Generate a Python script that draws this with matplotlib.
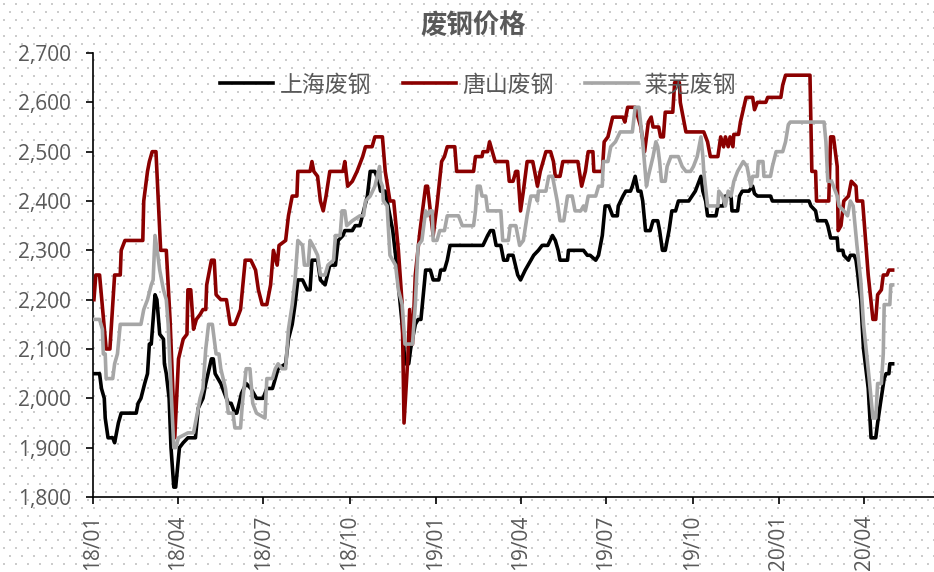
import matplotlib
matplotlib.use("Agg")
import matplotlib.pyplot as plt
import matplotlib.dates as mdates
import matplotlib.ticker as mticker
import numpy as np
import pandas as pd

# ---------------------------------------------------------------------------
# 数据 (元/吨)
# ---------------------------------------------------------------------------
series_names = ["上海废钢", "唐山废钢", "莱芜废钢"]
series_colors = ["#000000", "#8B0000", "#A6A6A6"]

shanghai = [
    ("2018-01-02", 2050), ("2018-01-08", 2050), ("2018-01-10", 2020), ("2018-01-13", 2000),
    ("2018-01-14", 1960), ("2018-01-17", 1920), ("2018-01-22", 1920), ("2018-01-24", 1910),
    ("2018-01-28", 1950), ("2018-01-31", 1970), ("2018-02-16", 1970), ("2018-02-18", 1990),
    ("2018-02-21", 2000), ("2018-02-25", 2030), ("2018-02-28", 2050), ("2018-03-02", 2110),
    ("2018-03-04", 2110), ("2018-03-08", 2210), ("2018-03-10", 2200), ("2018-03-13", 2130),
    ("2018-03-17", 2120), ("2018-03-18", 2070), ("2018-03-20", 2050), ("2018-03-23", 2000),
    ("2018-03-25", 1900), ("2018-03-28", 1820), ("2018-03-30", 1820), ("2018-04-03", 1900),
    ("2018-04-07", 1910), ("2018-04-12", 1920), ("2018-04-20", 1920), ("2018-04-23", 1980),
    ("2018-04-28", 2000), ("2018-05-01", 2030), ("2018-05-07", 2080), ("2018-05-09", 2080),
    ("2018-05-11", 2050), ("2018-05-17", 2030), ("2018-05-25", 1990), ("2018-05-28", 1990),
    ("2018-06-01", 1970), ("2018-06-03", 1970), ("2018-06-08", 2010), ("2018-06-13", 2030),
    ("2018-06-18", 2020), ("2018-06-24", 2000), ("2018-07-01", 2000), ("2018-07-05", 2020),
    ("2018-07-11", 2020), ("2018-07-14", 2040), ("2018-07-17", 2060), ("2018-07-25", 2070),
    ("2018-07-28", 2120), ("2018-08-01", 2150), ("2018-08-04", 2190), ("2018-08-07", 2240),
    ("2018-08-12", 2240), ("2018-08-17", 2220), ("2018-08-20", 2220), ("2018-08-22", 2280),
    ("2018-08-28", 2280), ("2018-08-31", 2240), ("2018-09-05", 2230), ("2018-09-10", 2270),
    ("2018-09-16", 2270), ("2018-09-19", 2320), ("2018-09-24", 2330), ("2018-09-26", 2340),
    ("2018-10-04", 2340), ("2018-10-07", 2350), ("2018-10-12", 2350), ("2018-10-16", 2380),
    ("2018-10-20", 2410), ("2018-10-23", 2460), ("2018-10-28", 2460), ("2018-11-01", 2440),
    ("2018-11-03", 2420), ("2018-11-08", 2420), ("2018-11-11", 2390), ("2018-11-16", 2340),
    ("2018-11-19", 2290), ("2018-11-22", 2230), ("2018-11-26", 2150), ("2018-11-29", 2070),
    ("2018-12-03", 2070), ("2018-12-05", 2100), ("2018-12-08", 2130), ("2018-12-10", 2150),
    ("2018-12-13", 2160), ("2018-12-16", 2160), ("2018-12-21", 2260), ("2018-12-26", 2260),
    ("2018-12-29", 2240), ("2019-01-04", 2240), ("2019-01-06", 2260), ("2019-01-10", 2260),
    ("2019-01-13", 2280), ("2019-01-16", 2310), ("2019-02-20", 2310), ("2019-02-25", 2330),
    ("2019-02-28", 2340), ("2019-03-03", 2340), ("2019-03-06", 2310), ("2019-03-11", 2310),
    ("2019-03-14", 2280), ("2019-03-18", 2280), ("2019-03-19", 2290), ("2019-03-24", 2290),
    ("2019-03-29", 2250), ("2019-04-01", 2240), ("2019-04-06", 2260), ("2019-04-12", 2280),
    ("2019-04-15", 2290), ("2019-04-20", 2300), ("2019-04-24", 2310), ("2019-04-30", 2310),
    ("2019-05-05", 2330), ("2019-05-08", 2320), ("2019-05-11", 2300), ("2019-05-13", 2280),
    ("2019-05-21", 2280), ("2019-05-22", 2300), ("2019-06-07", 2300), ("2019-06-11", 2290),
    ("2019-06-14", 2290), ("2019-06-20", 2280), ("2019-06-23", 2290), ("2019-06-27", 2330),
    ("2019-06-30", 2390), ("2019-07-04", 2390), ("2019-07-08", 2370), ("2019-07-13", 2370),
    ("2019-07-14", 2390), ("2019-07-19", 2410), ("2019-07-22", 2420), ("2019-07-27", 2420),
    ("2019-07-29", 2430), ("2019-08-01", 2450), ("2019-08-04", 2420), ("2019-08-07", 2420),
    ("2019-08-09", 2400), ("2019-08-12", 2340), ("2019-08-17", 2340), ("2019-08-20", 2360),
    ("2019-08-25", 2360), ("2019-08-27", 2340), ("2019-08-30", 2300), ("2019-09-02", 2300),
    ("2019-09-06", 2340), ("2019-09-09", 2380), ("2019-09-13", 2380), ("2019-09-16", 2400),
    ("2019-09-27", 2400), ("2019-10-04", 2420), ("2019-10-10", 2450), ("2019-10-12", 2420),
    ("2019-10-15", 2400), ("2019-10-17", 2370), ("2019-10-26", 2370), ("2019-10-28", 2390),
    ("2019-11-03", 2390), ("2019-11-05", 2410), ("2019-11-11", 2410), ("2019-11-12", 2380),
    ("2019-11-18", 2380), ("2019-11-20", 2410), ("2019-11-23", 2420), ("2019-11-30", 2420),
    ("2019-12-04", 2430), ("2019-12-06", 2415), ("2019-12-09", 2410), ("2019-12-23", 2410),
    ("2019-12-25", 2400), ("2020-02-02", 2400), ("2020-02-04", 2390), ("2020-02-09", 2380),
    ("2020-02-11", 2360), ("2020-02-20", 2360), ("2020-02-22", 2350), ("2020-02-25", 2325),
    ("2020-03-03", 2325), ("2020-03-04", 2300), ("2020-03-09", 2300), ("2020-03-10", 2290),
    ("2020-03-15", 2280), ("2020-03-17", 2290), ("2020-03-21", 2290), ("2020-03-23", 2280),
    ("2020-03-25", 2250), ("2020-03-26", 2230), ("2020-03-28", 2200), ("2020-03-31", 2100),
    ("2020-04-05", 2020), ("2020-04-08", 1920), ("2020-04-13", 1920), ("2020-04-15", 1950),
    ("2020-04-18", 1990), ("2020-04-22", 2040), ("2020-04-24", 2050), ("2020-04-27", 2050),
    ("2020-04-28", 2070), ("2020-05-01", 2070),
]

tangshan = [
    ("2018-01-02", 2200), ("2018-01-04", 2250), ("2018-01-08", 2250), ("2018-01-15", 2100),
    ("2018-01-19", 2100), ("2018-01-23", 2220), ("2018-01-24", 2250), ("2018-01-30", 2250),
    ("2018-01-31", 2300), ("2018-02-04", 2320), ("2018-02-23", 2320), ("2018-02-24", 2400),
    ("2018-02-28", 2460), ("2018-03-02", 2480), ("2018-03-05", 2500), ("2018-03-09", 2500),
    ("2018-03-14", 2300), ("2018-03-20", 2300), ("2018-03-24", 2160), ("2018-03-29", 1920),
    ("2018-04-02", 2080), ("2018-04-07", 2120), ("2018-04-11", 2130), ("2018-04-12", 2220),
    ("2018-04-15", 2220), ("2018-04-18", 2140), ("2018-04-21", 2160), ("2018-04-25", 2170),
    ("2018-04-28", 2180), ("2018-05-01", 2180), ("2018-05-02", 2230), ("2018-05-07", 2280),
    ("2018-05-10", 2280), ("2018-05-12", 2210), ("2018-05-17", 2200), ("2018-05-23", 2200),
    ("2018-05-27", 2150), ("2018-06-01", 2150), ("2018-06-07", 2180), ("2018-06-12", 2280),
    ("2018-06-18", 2280), ("2018-06-23", 2260), ("2018-06-26", 2220), ("2018-06-30", 2190),
    ("2018-07-05", 2190), ("2018-07-09", 2230), ("2018-07-12", 2300), ("2018-07-16", 2270),
    ("2018-07-18", 2310), ("2018-07-25", 2320), ("2018-07-28", 2370), ("2018-08-01", 2410),
    ("2018-08-06", 2410), ("2018-08-07", 2460), ("2018-08-20", 2460), ("2018-08-22", 2480),
    ("2018-08-24", 2460), ("2018-08-28", 2450), ("2018-08-31", 2400), ("2018-09-03", 2380),
    ("2018-09-06", 2410), ("2018-09-10", 2460), ("2018-09-24", 2460), ("2018-09-26", 2480),
    ("2018-09-29", 2430), ("2018-10-04", 2440), ("2018-10-09", 2460), ("2018-10-15", 2490),
    ("2018-10-18", 2510), ("2018-10-25", 2510), ("2018-10-28", 2530), ("2018-11-05", 2530),
    ("2018-11-08", 2460), ("2018-11-13", 2400), ("2018-11-17", 2400), ("2018-11-22", 2300),
    ("2018-11-26", 2190), ("2018-11-28", 1950), ("2018-12-02", 2080), ("2018-12-04", 2180),
    ("2018-12-07", 2110), ("2018-12-10", 2250), ("2018-12-15", 2340), ("2018-12-19", 2400),
    ("2018-12-21", 2430), ("2018-12-23", 2430), ("2018-12-26", 2380), ("2018-12-29", 2330),
    ("2019-01-02", 2390), ("2019-01-07", 2480), ("2019-01-10", 2490), ("2019-01-13", 2510),
    ("2019-01-21", 2510), ("2019-01-23", 2460), ("2019-02-10", 2460), ("2019-02-12", 2490),
    ("2019-02-19", 2490), ("2019-02-20", 2500), ("2019-02-25", 2500), ("2019-02-27", 2520),
    ("2019-03-02", 2500), ("2019-03-05", 2480), ("2019-03-18", 2480), ("2019-03-20", 2440),
    ("2019-03-24", 2440), ("2019-03-27", 2460), ("2019-03-29", 2460), ("2019-04-01", 2380),
    ("2019-04-04", 2420), ("2019-04-08", 2480), ("2019-04-14", 2480), ("2019-04-16", 2460),
    ("2019-04-19", 2430), ("2019-04-22", 2460), ("2019-04-28", 2500), ("2019-05-03", 2500),
    ("2019-05-06", 2480), ("2019-05-08", 2450), ("2019-05-13", 2450), ("2019-05-16", 2480),
    ("2019-06-01", 2480), ("2019-06-05", 2430), ("2019-06-09", 2460), ("2019-06-12", 2500),
    ("2019-06-17", 2500), ("2019-06-18", 2460), ("2019-06-27", 2460), ("2019-06-29", 2520),
    ("2019-07-03", 2530), ("2019-07-08", 2570), ("2019-07-19", 2570), ("2019-07-21", 2560),
    ("2019-07-24", 2590), ("2019-08-01", 2590), ("2019-08-07", 2550), ("2019-08-11", 2500),
    ("2019-08-15", 2560), ("2019-08-18", 2570), ("2019-08-20", 2550), ("2019-08-26", 2550),
    ("2019-08-28", 2530), ("2019-08-31", 2530), ("2019-09-02", 2580), ("2019-09-10", 2580),
    ("2019-09-12", 2640), ("2019-09-17", 2640), ("2019-09-18", 2600), ("2019-09-24", 2540),
    ("2019-10-13", 2540), ("2019-10-17", 2520), ("2019-10-20", 2490), ("2019-10-28", 2490),
    ("2019-10-31", 2530), ("2019-11-03", 2510), ("2019-11-05", 2530), ("2019-11-08", 2510),
    ("2019-11-10", 2530), ("2019-11-13", 2510), ("2019-11-14", 2535), ("2019-11-19", 2535),
    ("2019-11-21", 2560), ("2019-11-27", 2610), ("2019-12-04", 2610), ("2019-12-06", 2585),
    ("2019-12-09", 2600), ("2019-12-18", 2600), ("2019-12-20", 2610), ("2020-01-03", 2610),
    ("2020-01-05", 2635), ("2020-01-08", 2655), ("2020-02-03", 2655), ("2020-02-05", 2460),
    ("2020-02-09", 2460), ("2020-02-10", 2400), ("2020-02-23", 2400), ("2020-02-25", 2530),
    ("2020-02-28", 2530), ("2020-03-03", 2470), ("2020-03-04", 2340), ("2020-03-07", 2350),
    ("2020-03-10", 2400), ("2020-03-15", 2410), ("2020-03-18", 2440), ("2020-03-23", 2430),
    ("2020-03-24", 2400), ("2020-03-30", 2400), ("2020-04-05", 2250), ("2020-04-10", 2160),
    ("2020-04-13", 2160), ("2020-04-15", 2210), ("2020-04-19", 2220), ("2020-04-21", 2250),
    ("2020-04-25", 2250), ("2020-04-27", 2260), ("2020-05-01", 2260),
]

laiwu = [
    ("2018-01-02", 2160), ("2018-01-08", 2160), ("2018-01-11", 2140), ("2018-01-12", 2090),
    ("2018-01-14", 2090), ("2018-01-15", 2040), ("2018-01-22", 2040), ("2018-01-24", 2070),
    ("2018-01-27", 2090), ("2018-01-30", 2150), ("2018-02-21", 2150), ("2018-02-24", 2180),
    ("2018-02-28", 2200), ("2018-03-04", 2230), ("2018-03-06", 2240), ("2018-03-08", 2330),
    ("2018-03-11", 2290), ("2018-03-13", 2260), ("2018-03-17", 2220), ("2018-03-20", 2200),
    ("2018-03-22", 2150), ("2018-03-25", 2020), ("2018-03-28", 1900), ("2018-03-30", 1900),
    ("2018-04-02", 1920), ("2018-04-12", 1930), ("2018-04-18", 1930), ("2018-04-21", 1960),
    ("2018-04-25", 2000), ("2018-04-28", 2020), ("2018-05-01", 2100), ("2018-05-04", 2150),
    ("2018-05-08", 2150), ("2018-05-10", 2120), ("2018-05-12", 2090), ("2018-05-15", 2090),
    ("2018-05-17", 2060), ("2018-05-22", 2020), ("2018-05-25", 1970), ("2018-05-30", 1970),
    ("2018-06-01", 1940), ("2018-06-07", 1940), ("2018-06-09", 1990), ("2018-06-13", 2060),
    ("2018-06-17", 2060), ("2018-06-20", 1990), ("2018-06-24", 1970), ("2018-07-03", 1960),
    ("2018-07-05", 2040), ("2018-07-11", 2040), ("2018-07-14", 2060), ("2018-07-17", 2070),
    ("2018-07-21", 2060), ("2018-07-25", 2060), ("2018-07-28", 2140), ("2018-08-01", 2190),
    ("2018-08-04", 2240), ("2018-08-07", 2320), ("2018-08-12", 2310), ("2018-08-14", 2270),
    ("2018-08-18", 2270), ("2018-08-20", 2320), ("2018-08-23", 2310), ("2018-08-28", 2290),
    ("2018-08-31", 2250), ("2018-09-05", 2250), ("2018-09-08", 2270), ("2018-09-14", 2280),
    ("2018-09-16", 2330), ("2018-09-21", 2330), ("2018-09-23", 2380), ("2018-09-26", 2380),
    ("2018-09-28", 2350), ("2018-10-04", 2360), ("2018-10-12", 2370), ("2018-10-16", 2370),
    ("2018-10-18", 2400), ("2018-10-23", 2410), ("2018-10-28", 2430), ("2018-11-02", 2470),
    ("2018-11-03", 2440), ("2018-11-05", 2430), ("2018-11-06", 2400), ("2018-11-10", 2390),
    ("2018-11-13", 2290), ("2018-11-19", 2270), ("2018-11-22", 2220), ("2018-11-26", 2190),
    ("2018-11-29", 2110), ("2018-12-07", 2110), ("2018-12-10", 2190), ("2018-12-13", 2310),
    ("2018-12-17", 2320), ("2018-12-21", 2380), ("2018-12-23", 2370), ("2018-12-26", 2380),
    ("2018-12-28", 2380), ("2018-12-29", 2320), ("2019-01-02", 2320), ("2019-01-05", 2340),
    ("2019-01-10", 2340), ("2019-01-13", 2370), ("2019-01-25", 2370), ("2019-01-29", 2350),
    ("2019-02-10", 2350), ("2019-02-12", 2380), ("2019-02-14", 2430), ("2019-02-17", 2430),
    ("2019-02-19", 2410), ("2019-02-23", 2410), ("2019-02-25", 2380), ("2019-03-11", 2380),
    ("2019-03-13", 2320), ("2019-03-19", 2320), ("2019-03-21", 2350), ("2019-03-27", 2350),
    ("2019-03-29", 2330), ("2019-03-31", 2310), ("2019-04-04", 2320), ("2019-04-08", 2370),
    ("2019-04-12", 2410), ("2019-04-17", 2410), ("2019-04-19", 2400), ("2019-04-20", 2420),
    ("2019-04-28", 2420), ("2019-05-01", 2450), ("2019-05-05", 2450), ("2019-05-08", 2420),
    ("2019-05-10", 2400), ("2019-05-13", 2360), ("2019-05-17", 2360), ("2019-05-21", 2410),
    ("2019-05-26", 2410), ("2019-05-29", 2380), ("2019-06-04", 2380), ("2019-06-07", 2390),
    ("2019-06-09", 2380), ("2019-06-12", 2410), ("2019-06-20", 2410), ("2019-06-23", 2430),
    ("2019-06-27", 2430), ("2019-06-28", 2480), ("2019-07-03", 2480), ("2019-07-06", 2510),
    ("2019-07-11", 2520), ("2019-07-16", 2540), ("2019-07-29", 2540), ("2019-08-01", 2590),
    ("2019-08-05", 2590), ("2019-08-09", 2520), ("2019-08-13", 2430), ("2019-08-15", 2450),
    ("2019-08-20", 2490), ("2019-08-23", 2520), ("2019-08-25", 2510), ("2019-08-27", 2480),
    ("2019-08-29", 2440), ("2019-09-02", 2440), ("2019-09-04", 2470), ("2019-09-08", 2490),
    ("2019-09-16", 2490), ("2019-09-20", 2470), ("2019-09-24", 2460), ("2019-09-29", 2460),
    ("2019-10-02", 2470), ("2019-10-06", 2490), ("2019-10-10", 2530), ("2019-10-12", 2490),
    ("2019-10-13", 2460), ("2019-10-17", 2390), ("2019-10-28", 2390), ("2019-10-29", 2420),
    ("2019-11-02", 2410), ("2019-11-05", 2390), ("2019-11-08", 2420), ("2019-11-11", 2410),
    ("2019-11-14", 2440), ("2019-11-18", 2460), ("2019-11-21", 2470), ("2019-11-24", 2480),
    ("2019-11-28", 2470), ("2019-12-02", 2430), ("2019-12-04", 2450), ("2019-12-09", 2450),
    ("2019-12-10", 2480), ("2019-12-15", 2480), ("2019-12-16", 2450), ("2019-12-23", 2450),
    ("2019-12-25", 2470), ("2019-12-29", 2500), ("2020-01-05", 2500), ("2020-01-08", 2520),
    ("2020-01-11", 2555), ("2020-01-13", 2560), ("2020-02-18", 2560), ("2020-02-20", 2520),
    ("2020-02-22", 2440), ("2020-02-26", 2440), ("2020-03-03", 2410), ("2020-03-05", 2390),
    ("2020-03-10", 2380), ("2020-03-14", 2370), ("2020-03-17", 2400), ("2020-03-20", 2390),
    ("2020-03-24", 2310), ("2020-03-28", 2240), ("2020-03-31", 2150), ("2020-04-06", 2040),
    ("2020-04-10", 1960), ("2020-04-13", 1960), ("2020-04-15", 2030), ("2020-04-19", 2030),
    ("2020-04-21", 2090), ("2020-04-22", 2190), ("2020-04-26", 2190), ("2020-04-28", 2190),
    ("2020-04-29", 2230), ("2020-05-01", 2230),
]

# ---------------------------------------------------------------------------
# 绘图
# ---------------------------------------------------------------------------
plt.rcParams["font.family"] = ["Noto Sans CJK SC", "DejaVu Sans"]
TEXT_GRAY = "#595959"
W, H = 934, 572

fig = plt.figure(figsize=(W / 100, H / 100), dpi=100)

# 点状底纹
bg = fig.add_axes([0, 0, 1, 1], zorder=-1)
bg.set_xlim(0, W)
bg.set_ylim(H, 0)
bg.axis("off")
gx, gy = np.meshgrid(np.arange(4, W, 12), np.arange(4, H, 8))
gx = gx + (np.arange(gy.shape[0]) % 2)[:, None] * 6
bg.scatter(gx.ravel(), gy.ravel(), s=1.3, marker="s", c="#cccccc", linewidths=0)

ax = fig.add_axes([93 / W, 1 - 497 / H, 1 - 93 / W, (497 - 53) / H])
ax.patch.set_alpha(0)

for name, color, data, z in zip(series_names, series_colors,
                                [shanghai, tangshan, laiwu], [2, 3, 4]):
    dates, prices = zip(*data)
    ax.plot(pd.to_datetime(dates), prices, color=color, lw=2.6, label=name, zorder=z)

ax.set_ylim(1800, 2700)
ax.set_xlim(pd.Timestamp("2018-01-01"), pd.Timestamp("2020-06-14"))
ax.yaxis.set_major_locator(mticker.MultipleLocator(100))
ax.yaxis.set_major_formatter(mticker.FuncFormatter(lambda v, p: f"{v:,.0f}"))
ax.xaxis.set_major_locator(mdates.MonthLocator(bymonth=[1, 4, 7, 10]))
ax.xaxis.set_major_formatter(mdates.DateFormatter("%y/%m"))

for s in ["top", "right"]:
    ax.spines[s].set_visible(False)
for s in ["left", "bottom"]:
    ax.spines[s].set_linewidth(1.2)

ax.tick_params(axis="y", direction="out", length=5, width=1.2, pad=11,
               labelsize=15, labelcolor=TEXT_GRAY)
ax.tick_params(axis="x", direction="out", length=5, width=1.2, pad=8,
               labelsize=15, labelcolor=TEXT_GRAY, labelrotation=90)
for lab in ax.get_xticklabels() + ax.get_yticklabels():
    lab.set_family(["Open Sans", "DejaVu Sans"])

fig.text(473 / W, 1 - 25 / H, "废钢价格", ha="center", va="center",
         fontsize=19, fontweight="bold", color=TEXT_GRAY)

ax.legend(loc="center", bbox_to_anchor=(478 / W, 1 - 85 / H),
          bbox_transform=fig.transFigure, ncol=3, frameon=False,
          fontsize=16.5, labelcolor=TEXT_GRAY, handlelength=2.33,
          handletextpad=0.26, columnspacing=1.38)

fig.savefig("out.png", dpi=100)
